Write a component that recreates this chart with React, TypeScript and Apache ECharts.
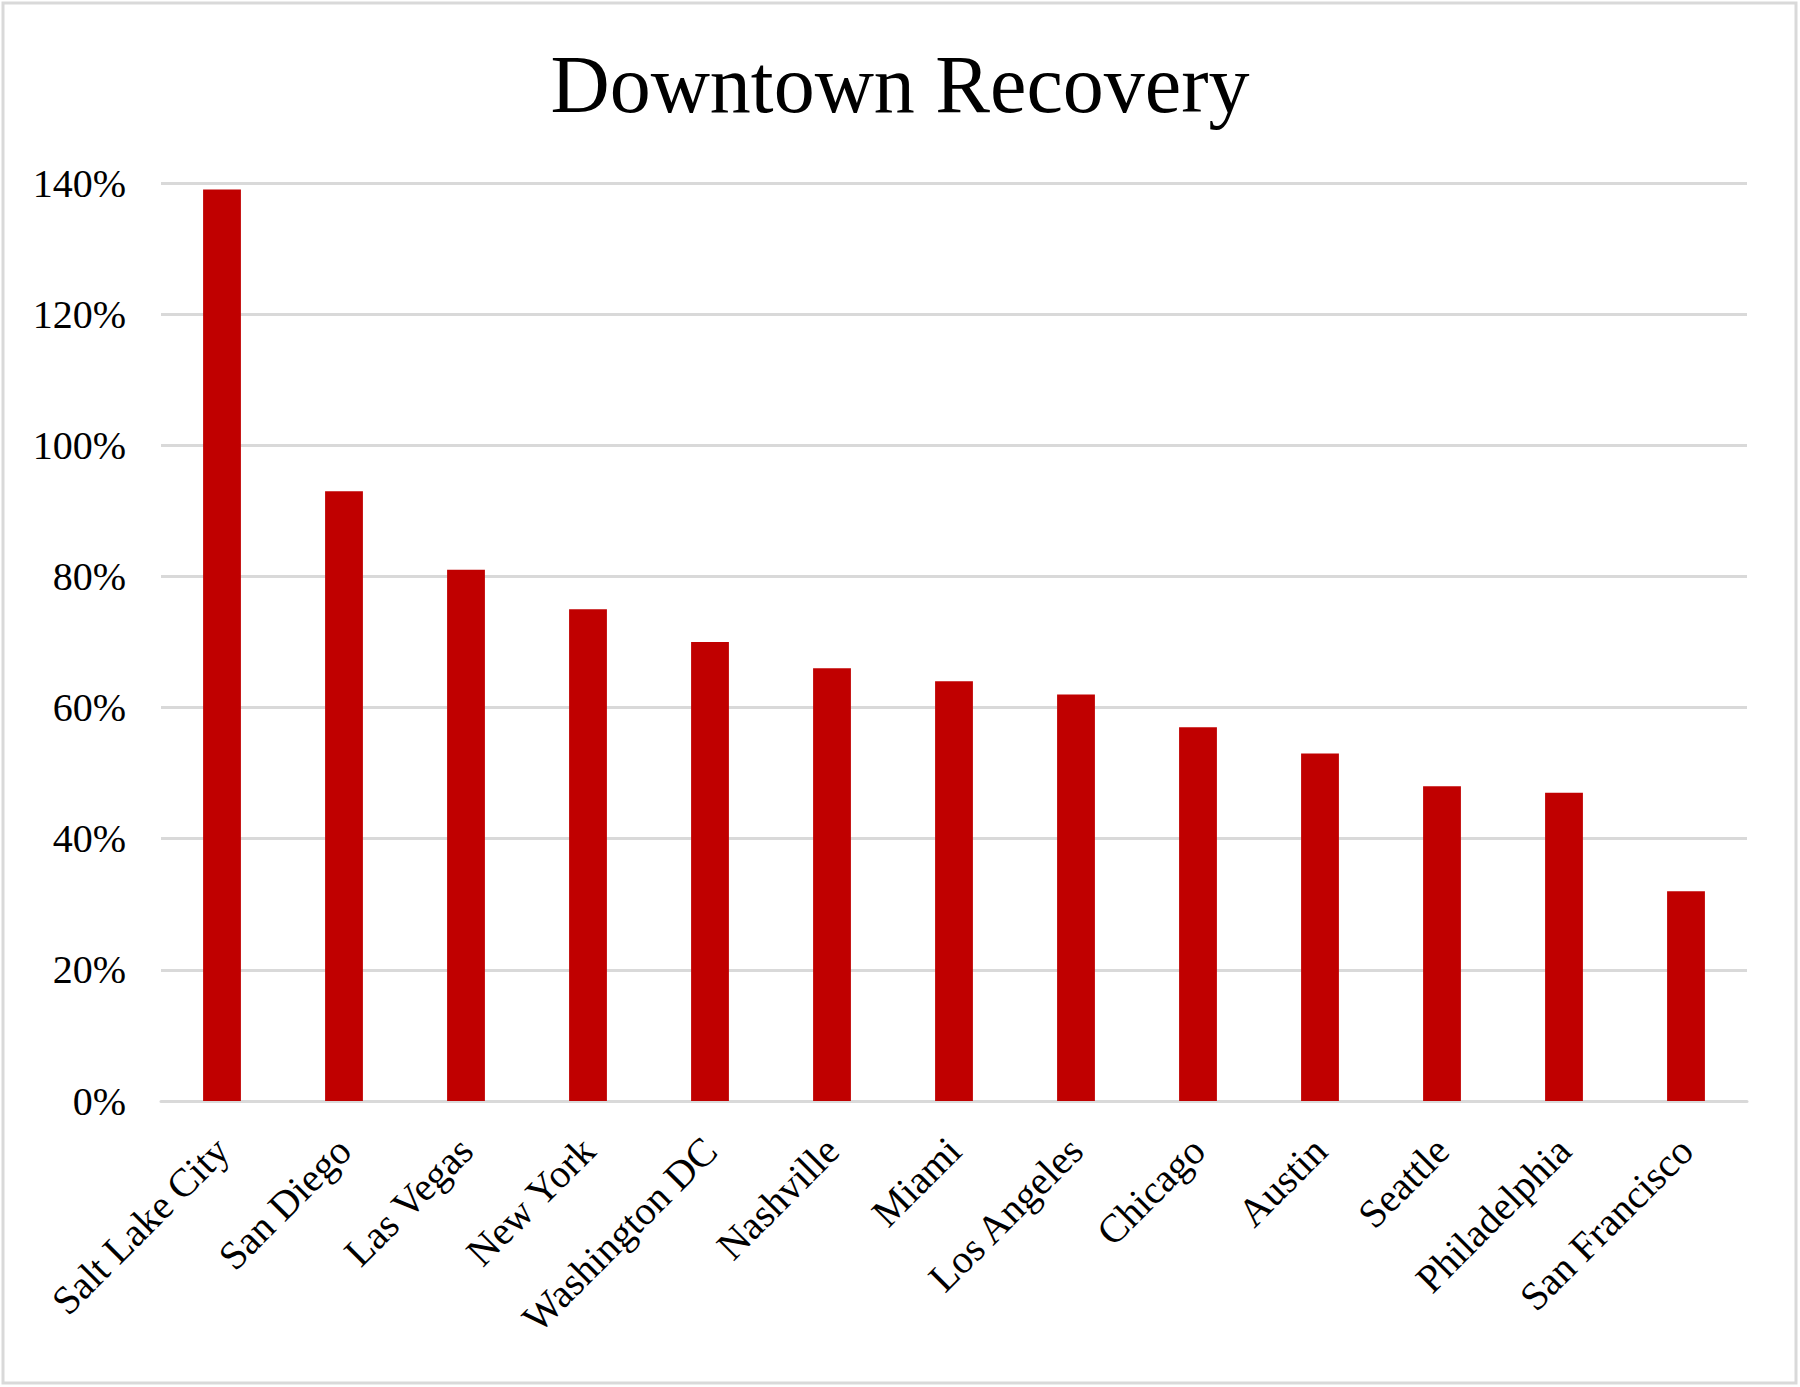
import React, { useEffect, useRef } from "react";
import * as echarts from "echarts";

const cities = [
  "Salt Lake City",
  "San Diego",
  "Las Vegas",
  "New York",
  "Washington DC",
  "Nashville",
  "Miami",
  "Los Angeles",
  "Chicago",
  "Austin",
  "Seattle",
  "Philadelphia",
  "San Francisco",
];
const recovery = [139, 93, 81, 75, 70, 66, 64, 62, 57, 53, 48, 47, 32];
const titleText = "Downtown Recovery";

const FONT = '"Liberation Serif", "Times New Roman", serif';

export default function App() {
  const ref = useRef<HTMLDivElement>(null);
  useEffect(() => {
    if (!ref.current) return;
    const chart = echarts.init(ref.current, null, { renderer: "svg" });
    chart.setOption({
      animation: false,
      backgroundColor: "#ffffff",
      title: {
        text: titleText,
        left: "center",
        top: 38,
        textStyle: { fontFamily: FONT, fontSize: 82, fontWeight: "normal", color: "#000000" },
      },
      graphic: [
        {
          type: "rect",
          shape: { x: 3, y: 3, width: 1793, height: 1380 },
          style: { fill: "none", stroke: "#d9d9d9", lineWidth: 3 },
          silent: true,
        },
      ],
      grid: { left: 161, right: 53, top: 183, bottom: 286, containLabel: false },
      xAxis: {
        type: "category",
        data: cities,
        axisLine: { show: true, lineStyle: { color: "#d9d9d9", width: 3 } },
        axisTick: { show: false },
        axisLabel: {
          rotate: 45,
          interval: 0,
          margin: 43,
          fontFamily: FONT,
          fontSize: 40,
          color: "#000000",
        },
      },
      yAxis: {
        type: "value",
        min: 0,
        max: 140,
        interval: 20,
        axisLine: { show: false },
        axisTick: { show: false },
        splitLine: { show: true, lineStyle: { color: "#d9d9d9", width: 3 } },
        axisLabel: {
          formatter: "{value}%",
          margin: 35,
          fontFamily: FONT,
          fontSize: 40,
          color: "#000000",
        },
      },
      series: [
        {
          type: "bar",
          data: recovery,
          barWidth: "31%",
          itemStyle: { color: "#c00000" },
        },
      ],
    });
    return () => chart.dispose();
  }, []);
  return (
    <div
      ref={ref}
      style={{ position: "fixed", left: 0, top: 0, width: 1800, height: 1387, background: "#fff" }}
    />
  );
}
